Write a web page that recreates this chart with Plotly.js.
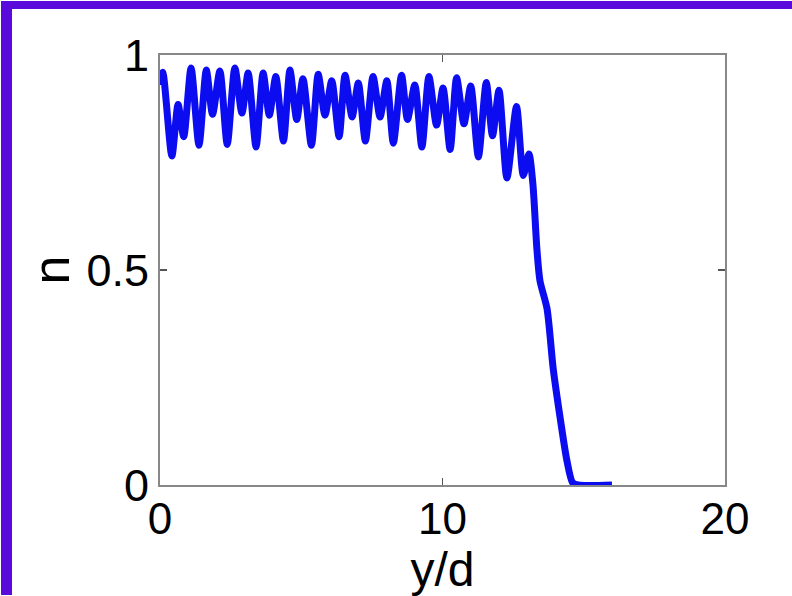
<!DOCTYPE html>
<html>
<head>
<meta charset="utf-8">
<script src="https://cdn.plot.ly/plotly-3.0.1.min.js"></script>
<style>
  html, body { margin: 0; padding: 0; background: #ffffff; overflow: hidden; width: 792px; height: 596px; }
  #topband { position: absolute; left: 1px; top: 1px; width: 791px; height: 8px; background: #5a0bdc; }
  #leftband { position: absolute; left: 1px; top: 1px; width: 11px; height: 594px; background: #5a0bdc; }
  #chart { position: absolute; left: 12px; top: 9px; width: 780px; height: 587px; }
</style>
</head>
<body>
<div id="chart"></div>
<div id="topband"></div>
<div id="leftband"></div>
<script>
// y/d positions (x) and density n
const yOverD = [0.0, 0.1, 0.42, 0.64, 0.84, 1.1, 1.38, 1.64, 1.86, 2.12, 2.38, 2.65, 2.9, 3.12, 3.4, 3.65, 3.87,
  4.1, 4.37, 4.6, 4.84, 5.06, 5.36, 5.6, 5.84, 6.08, 6.34, 6.55, 6.8, 7.02, 7.27, 7.54, 7.79, 8.03, 8.26,
  8.55, 8.76, 9.02, 9.27, 9.52, 9.79, 10.02, 10.27, 10.5, 10.76, 11.0, 11.27, 11.55, 11.77, 12.0, 12.28,
  12.62, 12.86, 13.06, 13.2, 13.34, 13.45, 13.7, 13.92, 14.16, 14.4, 14.6, 14.8, 16.0];
const nValues = [0.93, 0.96, 0.765, 0.885, 0.81, 0.97, 0.79, 0.965, 0.862, 0.963, 0.792, 0.97, 0.865, 0.958, 0.786, 0.958, 0.86,
  0.95, 0.80, 0.965, 0.85, 0.945, 0.79, 0.955, 0.86, 0.94, 0.81, 0.953, 0.856, 0.935, 0.80, 0.95, 0.856, 0.94, 0.795,
  0.953, 0.85, 0.93, 0.786, 0.95, 0.837, 0.923, 0.78, 0.947, 0.84, 0.928, 0.763, 0.936, 0.812, 0.918, 0.714,
  0.88, 0.72, 0.77, 0.70, 0.55, 0.475, 0.41, 0.27, 0.158, 0.058, 0.006, 0.0, 0.0];
const xTicks = [0, 10, 20];
const yTicks = [0, 0.5, 1];
const yTickText = ['0', '0.5', '1'];

const fontFam = '"Liberation Sans", Arial, sans-serif';
const trace = {
  x: yOverD, y: nValues, type: 'scatter', mode: 'lines',
  line: { color: '#0c0cf0', width: 7, shape: 'spline', smoothing: 0.7 },
  hoverinfo: 'skip'
};
const layout = {
  width: 780, height: 587,
  margin: { l: 148, r: 67, t: 46, b: 111 },
  paper_bgcolor: '#ffffff', plot_bgcolor: '#ffffff',
  showlegend: false,
  font: { family: fontFam, color: '#000000', size: 44 },
  xaxis: {
    range: [0, 20], tickvals: xTicks, ticktext: xTicks.map(String),
    ticks: 'inside', ticklen: 7, tickcolor: '#555555', tickwidth: 1.5,
    showline: true, linecolor: '#888888', linewidth: 2, mirror: 'ticks',
    showgrid: false, zeroline: false, ticklabelstandoff: -6,
    tickfont: { family: fontFam, size: 44, color: '#000' },
    title: { text: 'y/d', font: { family: fontFam, size: 48, color: '#000' }, standoff: 4 }
  },
  yaxis: {
    range: [0, 1], tickvals: yTicks, ticktext: yTickText,
    ticks: 'inside', ticklen: 7, tickcolor: '#555555', tickwidth: 1.5,
    showline: true, linecolor: '#888888', linewidth: 2, mirror: 'ticks',
    showgrid: false, zeroline: false,
    tickfont: { family: fontFam, size: 45, color: '#000' },
    title: { text: 'n', font: { family: fontFam, size: 52, color: '#000' }, standoff: 0 }
  }
};
Plotly.newPlot('chart', [trace], layout, { displayModeBar: false, staticPlot: true });
</script>
</body>
</html>
